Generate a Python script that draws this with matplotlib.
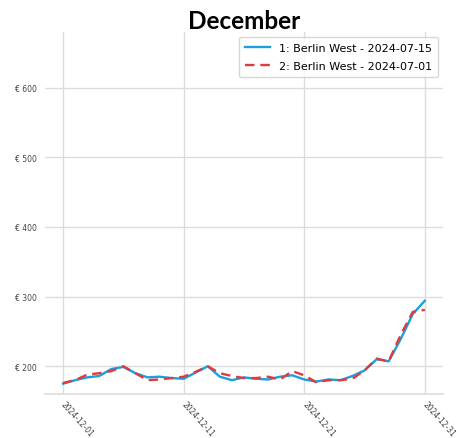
import matplotlib
matplotlib.use("Agg")
import matplotlib.pyplot as plt
import matplotlib.transforms as mtransforms
import pandas as pd

dates = pd.date_range("2024-12-01", "2024-12-31", freq="D")
series1_label = "1: Berlin West - 2024-07-15"
series2_label = "2: Berlin West - 2024-07-01"
series1 = [175, 180, 184, 186, 196, 199, 190, 184, 185, 183, 182, 191, 200, 185, 180,
           184, 182, 181, 185, 187, 181, 178, 181, 180, 186, 194, 210, 207, 239, 275, 294]
series2 = [176, 180, 188, 190, 193, 200, 190, 180, 181, 183, 185, 192, 200, 190, 186,
           183, 183, 185, 181, 193, 187, 177, 180, 180, 182, 194, 211, 207, 245, 278, 281]
yticks = [200, 300, 400, 500, 600]
xticks = pd.to_datetime(["2024-12-01", "2024-12-11", "2024-12-21", "2024-12-31"])
title = "December"

fig = plt.figure(figsize=(4.76, 4.39), dpi=100)
ax = fig.add_axes([0.0945, 0.10, 0.836, 0.825])

ax.plot(dates, series1, color="#1a9fdf", lw=1.7, label=series1_label, zorder=3)
ax.plot(dates, series2, color="#e0393e", lw=1.7, ls=(0, (4, 2.5)), label=series2_label, zorder=4)

ax.set_ylim(160, 680)
ax.set_yticks(yticks)
ax.set_yticklabels([f"€ {v}" for v in yticks])
ax.set_xticks(xticks)
ax.set_xticklabels([d.strftime("%Y-%m-%d") for d in xticks], rotation=-48,
                   ha="left", va="top", rotation_mode="anchor")

ax.grid(True, color="#dcdcdc", lw=1)
ax.set_axisbelow(True)
for s in ["top", "right", "left"]:
    ax.spines[s].set_visible(False)
ax.spines["bottom"].set_color("#dcdcdc")
ax.spines["bottom"].set_linewidth(1.2)
ax.tick_params(axis="both", length=0, labelsize=5.5, labelcolor="#444444")
ax.tick_params(axis="y", pad=6)
ax.tick_params(axis="x", pad=4)

offset = mtransforms.ScaledTranslation(3 / 100, 0, fig.dpi_scale_trans)
for lbl in ax.get_xticklabels():
    lbl.set_transform(lbl.get_transform() + offset)

ax.set_title(title, fontsize=17.5, fontweight="bold", family="Lato", pad=3)
leg = ax.legend(loc="upper right", fontsize=8, frameon=True, fancybox=True,
                borderaxespad=0.45, handlelength=2.2, labelspacing=0.75,
                borderpad=0.55)
leg.get_frame().set_edgecolor("#cccccc")
fig.savefig("out.png", dpi=100, facecolor="white")
